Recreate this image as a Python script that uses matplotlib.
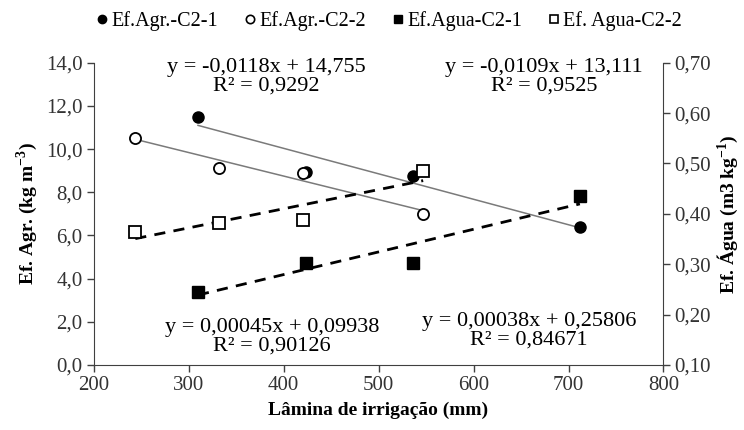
import matplotlib
matplotlib.use("Agg")
import matplotlib.pyplot as plt
import numpy as np
from matplotlib.lines import Line2D

# ---- data ----
lamina_c21 = [310, 424, 536, 712]
lamina_c22 = [244, 332, 420, 547]
ef_agr_c21 = [11.5, 8.95, 8.75, 6.4]
ef_agr_c22 = [10.5, 9.12, 8.9, 6.98]
ef_agua_c21 = [0.245, 0.302, 0.302, 0.436]
ef_agua_c22 = [0.364, 0.381, 0.388, 0.485]

# trend coefficients (slope, intercept) as printed on chart
trend_agr_c21 = (-0.0118, 14.755)
trend_agr_c22 = (-0.0109, 13.111)
trend_agua_c21 = (0.00045, 0.09938)
trend_agua_c22 = (0.00038, 0.25806)

labels = ["Ef.Agr.-C2-1", "Ef.Agr.-C2-2", "Ef.Agua-C2-1", "Ef. Agua-C2-2"]
eq_texts = ["y = -0,0118x + 14,755\nR² = 0,9292",
            "y = -0,0109x + 13,111\nR² = 0,9525",
            "y = 0,00045x + 0,09938\nR² = 0,90126",
            "y = 0,00038x + 0,25806\nR² = 0,84671"]

xticks = [200, 300, 400, 500, 600, 700, 800]
yticks_left = [0, 2, 4, 6, 8, 10, 12, 14]
yticks_right = [0.10, 0.20, 0.30, 0.40, 0.50, 0.60, 0.70]

plt.rcParams['font.family'] = ['Liberation Serif', 'DejaVu Serif']
plt.rcParams['mathtext.fontset'] = 'custom'
plt.rcParams['mathtext.rm'] = 'Liberation Serif'
plt.rcParams['mathtext.bf'] = 'Liberation Serif:bold'

fig = plt.figure(figsize=(7.44, 4.30), dpi=100)
ax = fig.add_axes([0.1257, 0.1512, 0.7661, 0.7030])
ax2 = ax.twinx()

fs_tick = 15
fs_eq = 16

def line(axis, xs, coef, **kw):
    xx = np.array([min(xs), max(xs)])
    axis.plot(xx, coef[0] * xx + coef[1], **kw)

line(ax, lamina_c21, trend_agr_c21, color='#7a7a7a', lw=1.1, zorder=2)
line(ax, lamina_c22, trend_agr_c22, color='#7a7a7a', lw=1.1, zorder=2)
ax.plot(lamina_c21, ef_agr_c21, 'o', ms=8, mfc='black', mec='black', zorder=3)
ax.plot(lamina_c22, ef_agr_c22, 'o', ms=8, mfc='white', mec='black', mew=1.3, zorder=3)

line(ax2, lamina_c21, trend_agua_c21, color='black', lw=2, ls=(0, (4, 3)), zorder=2)
line(ax2, lamina_c22, trend_agua_c22, color='black', lw=2, ls=(0, (4, 3)), zorder=2)
ax2.plot(lamina_c21, ef_agua_c21, 's', ms=8, mfc='black', mec='black', zorder=3)
ax2.plot(lamina_c22, ef_agua_c22, 's', ms=8, mfc='white', mec='black', mew=1.3, zorder=3)

ax.set_xlim(200, 800)
ax.set_ylim(0, 14)
ax2.set_ylim(0.10, 0.70)
ax.set_xticks(xticks)
ax.set_xticklabels([str(v) for v in xticks])
ax.set_yticks(yticks_left)
ax.set_yticklabels([f"{v:.1f}".replace('.', ',') for v in yticks_left])
ax2.set_yticks(yticks_right)
ax2.set_yticklabels([f"{v:.2f}".replace('.', ',') for v in yticks_right])

for a in (ax, ax2):
    a.spines['top'].set_visible(False)
    a.tick_params(direction='out', length=5, width=1, labelsize=fs_tick, colors='#404040', pad=3)
    for s in a.spines.values():
        s.set_color('#404040')
ax.spines['right'].set_visible(False)
ax2.spines['left'].set_visible(False)
ax2.spines['bottom'].set_visible(False)
for lab in ax.get_xticklabels() + ax.get_yticklabels() + ax2.get_yticklabels():
    lab.set_color('#333333')

ax.set_xlabel("Lâmina de irrigação (mm)", fontsize=14, fontweight='bold', labelpad=5)
ax.set_ylabel(r"Ef. Agr. (kg m$^{\mathbf{-3}}$)", fontsize=14, fontweight='bold', labelpad=4)
ax2.set_ylabel(r"Ef. Água (m3 kg$^{\mathbf{-1}}$)", fontsize=14, fontweight='bold',
               rotation=90, labelpad=3)

# equation annotations (pixel positions converted to figure fraction)
W, H = 744, 430
eq_pos = [(266, 77), (544, 77), (272, 337), (529, 331)]
for t, (px, py) in zip(eq_texts, eq_pos):
    fig.text(px / W, 1 - py / H, t, ha='center', va='center', fontsize=fs_eq,
             linespacing=1.0, color='black')

handles = [
    Line2D([], [], ls='none', marker='o', ms=6, mfc='black', mec='black'),
    Line2D([], [], ls='none', marker='o', ms=6, mfc='white', mec='black', mew=1.2),
    Line2D([], [], ls='none', marker='s', ms=6, mfc='black', mec='black'),
    Line2D([], [], ls='none', marker='s', ms=6, mfc='white', mec='black', mew=1.2),
]
fig.legend(handles, labels, loc='center', bbox_to_anchor=(389 / W, 1 - 21 / H), ncol=4,
           frameon=False, fontsize=14.5, handlelength=0.6, handletextpad=0.15,
           columnspacing=1.3, borderpad=0)

fig.savefig("out.png", dpi=100)
